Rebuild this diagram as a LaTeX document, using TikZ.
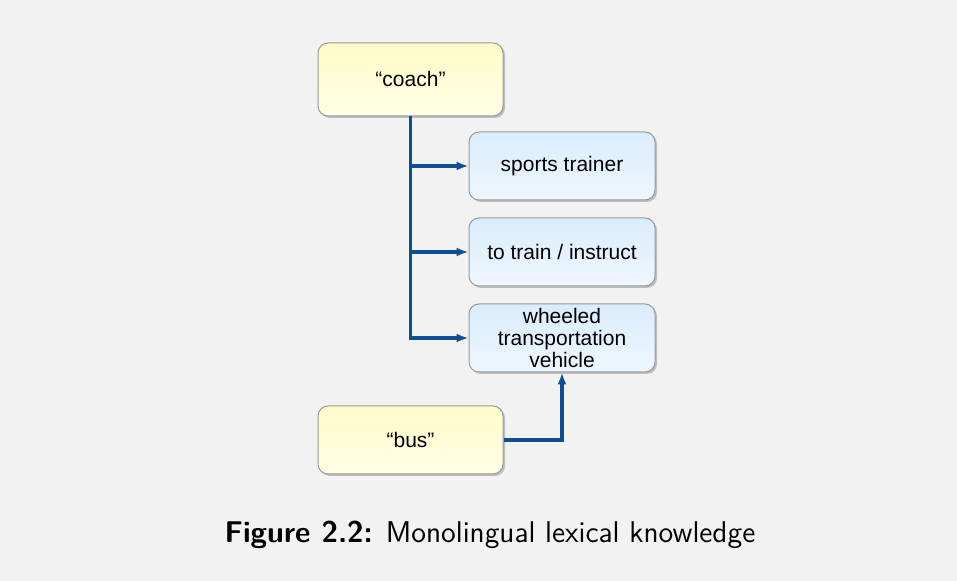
\documentclass[tikz,border=0pt]{standalone}
\usepackage{fontspec}
\newfontfamily\arial{Liberation Sans}
\usetikzlibrary{arrows.meta,shadows}

\definecolor{bggray}{HTML}{F2F2F2}
\definecolor{linkblue}{HTML}{0D4F94}
\definecolor{wordtop}{HTML}{FFFBC8}
\definecolor{wordbot}{HTML}{FFFFE8}
\definecolor{sensetop}{HTML}{DAECFC}
\definecolor{sensebot}{HTML}{EEF7FF}

\begin{document}
\begin{tikzpicture}
  [x=.5pt,y=-.5pt,
   every node/.style={font=\arial\fontsize{10.5}{11}\selectfont,align=center},
   box/.style={draw=gray!80,rounded corners=5pt,line width=.5pt,
               drop shadow={shadow xshift=1pt,shadow yshift=-1pt,opacity=.45}},
   word/.style={box,top color=wordtop,bottom color=wordbot,
                minimum width=92.5pt},
   sense/.style={box,top color=sensetop,bottom color=sensebot,
                 minimum width=93pt,minimum height=34pt,inner sep=0pt},
   link/.style={linkblue,line width=1.6pt,-{Latex[length=6pt,width=4.5pt]}}]
  \fill[bggray] (0,0) rectangle (957,581);
  \useasboundingbox (0,0) rectangle (957,581);
  \node[word,minimum height=36.5pt] (coach) at (410.5,79.5) {“coach”};
  \node[sense] (trainer) at (562,166) {sports trainer};
  \node[sense] (instruct) at (562,252) {to train / instruct};
  \node[sense] (vehicle) at (562,338) {wheeled\\transportation\\vehicle};
  \node[word,minimum height=34pt] (bus) at (410.5,440) {“bus”};
  \foreach \to in {trainer,instruct,vehicle}
    \draw[link] (coach.south) |- (\to.west);
  \draw[link] (bus.east) -| (vehicle.south);
  \node[font=\sffamily\fontsize{15}{17}\selectfont] (caption) at (490,535)
    {\textbf{Figure 2.2:} Monolingual lexical knowledge};
\end{tikzpicture}
\end{document}
